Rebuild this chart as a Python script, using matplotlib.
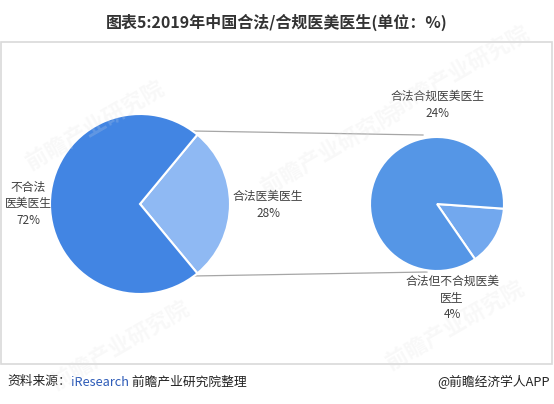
import matplotlib
matplotlib.use("Agg")
import matplotlib.pyplot as plt
from matplotlib.patches import Rectangle

plt.rcParams['font.family'] = ['Noto Sans CJK SC', 'DejaVu Sans']

title = "图表5:2019年中国合法/合规医美医生(单位：%)"
main_labels = ["合法医美医生", "不合法\n医美医生"]
main_values = [28, 72]
sub_labels = ["合法但不合规医美\n医生", "合法合规医美医生"]
sub_values = [4, 24]
source_prefix = "资料来源："
source_org = "iResearch"
source_suffix = " 前瞻产业研究院整理"
brand = "@前瞻经济学人APP"

W, H = 554, 404
fig = plt.figure(figsize=(W / 100, H / 100), dpi=100)
ax = fig.add_axes([0, 0, 1, 1])
ax.set_xlim(0, W)
ax.set_ylim(0, H)
ax.set_aspect('equal')
ax.axis('off')

def py(y):
    return H - y

# frame
ax.add_patch(Rectangle((1, py(364)), 551, 322, fill=False, edgecolor='#d9d9d9', lw=1.2, zorder=1))

# title
ax.text(277, py(22), title, ha='center', va='center', fontsize=11.5, fontweight='bold', color='#333333')

# left pie
lc = (140, py(204))
lr = 90
tot = sum(main_values)
small_angle = main_values[0] / tot * 360
ax.pie(main_values, startangle=-small_angle / 2, counterclock=True, center=lc, radius=lr,
       colors=['#8fb9f3', '#4285e3'], wedgeprops=dict(edgecolor='white', linewidth=1.5),
       frame=True)

# right pie
rc = (437, py(204))
rr = 67
stot = sum(sub_values)
s_angle = sub_values[0] / stot * 360
ax.pie(sub_values, startangle=-4 - s_angle, counterclock=True, center=rc, radius=rr,
       colors=['#72a8ee', '#5596e6'], wedgeprops=dict(edgecolor='white', linewidth=1.5),
       frame=True)

ax.set_xlim(0, W)
ax.set_ylim(0, H)
ax.axis('off')

# connector lines
ax.plot([193, 423], [py(131), py(135)], color='#a6a6a6', lw=0.9, zorder=0.5)
ax.plot([193, 427], [py(276), py(272)], color='#a6a6a6', lw=0.9, zorder=0.5)

lab_kw = dict(ha='center', va='center', fontsize=8.5, color='#404040', linespacing=1.35)
ax.text(28, py(204), f"{main_labels[1]}\n{main_values[1]}%", **lab_kw)
ax.text(268, py(205), f"{main_labels[0]}\n{main_values[0]}%", **lab_kw)
ax.text(437, py(105), f"{sub_labels[1]}\n{sub_values[1]}%", **lab_kw)
ax.text(452, py(298), f"{sub_labels[0]}\n{sub_values[0]}%", **lab_kw)

# watermarks
for (x, y) in [(95, 125), (330, 150), (120, 345), (455, 325), (460, 70)]:
    ax.text(x, py(y), "前瞻产业研究院", ha='center', va='center', fontsize=16, fontweight='bold',
            rotation=30, color='#e0e0e0', alpha=0.2, zorder=5)

# footer
fs = 9.2
t1 = ax.text(7, py(382), source_prefix, ha='left', va='center', fontsize=fs, color='#222222')
fig.canvas.draw()
r = fig.canvas.get_renderer()
bb = t1.get_window_extent(r)
t2 = ax.text(bb.x1, py(382), source_org, ha='left', va='center', fontsize=fs, color='#2e5cb8')
bb2 = t2.get_window_extent(r)
ax.text(bb2.x1, py(382), source_suffix, ha='left', va='center', fontsize=fs, color='#222222')
ax.text(550, py(382), brand, ha='right', va='center', fontsize=fs, color='#222222')

fig.savefig("out.png", dpi=100)
